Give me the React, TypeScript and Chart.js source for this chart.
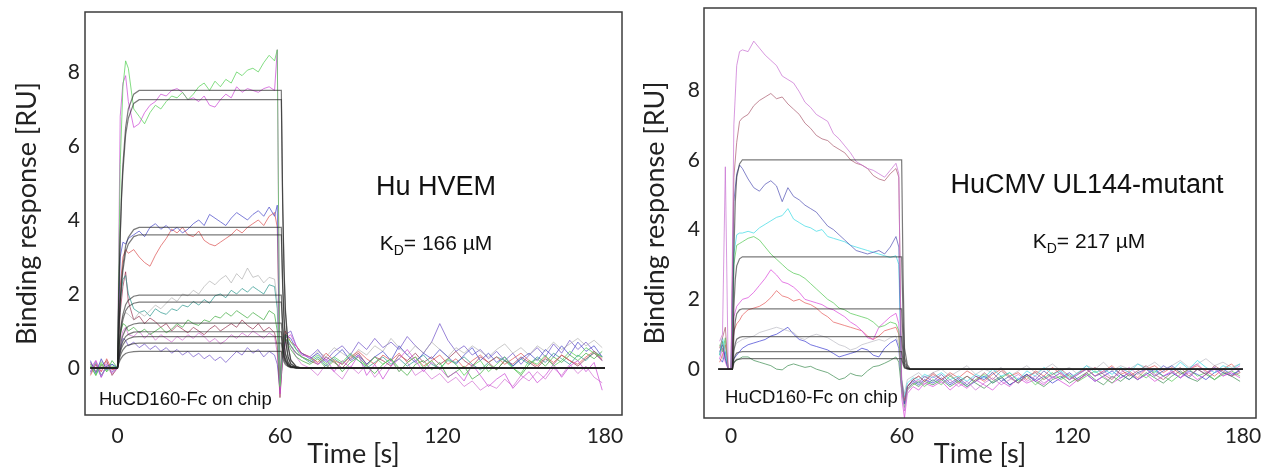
import React, { useEffect, useRef } from 'react';
import { Chart, registerables } from 'chart.js';

Chart.register(...registerables);

// ---------- Left panel (Hu HVEM) ----------
const TIME_L = [
  -10, -8, -6, -4, -2, 0,
  1, 2, 3, 4, 6, 8, 10, 12, 14, 16, 18, 20, 22, 24, 26, 28, 30, 32, 34, 36, 38, 40, 42, 44, 46, 48, 50, 52, 54, 56, 58,
  59, 60, 61, 62, 64, 66, 68,
  71, 74, 77, 80, 83, 86, 89, 92, 95, 98, 101, 104, 107, 110, 113, 116, 119, 122, 125, 128, 131, 134, 137, 140, 143, 146, 149, 152, 155, 158, 161, 164, 167, 170, 173, 176, 179,
];

const HVEM_GREEN = [
  0.1, -0.2, 0.15, -0.1, 0.05, 0.0,
  5.5, 7.6, 8.3, 8.1, 7.0, 6.8, 6.6, 6.9, 7.1, 7.0, 7.2, 7.35, 7.3, 7.45, 7.25, 7.4, 7.6, 7.7, 7.5, 7.75, 7.6, 7.8, 7.7, 8.0, 7.9, 8.05, 8.1, 8.0, 8.25, 8.45, 8.3,
  8.6, -0.5, 0.5, 0.9, 0.7, 0.5, 0.3,
  0.2, 0.35, 0.1, 0.3, 0.15, 0.4, 0.2, 0.05, 0.3, 0.1, 0.25, -0.1, 0.15, 0.3, 0.0, 0.2, -0.05, 0.25, 0.1, -0.2, 0.05, 0.2, -0.1, 0.1, 0.3, 0.0, -0.15, 0.2, 0.1, 0.35, 0.05, 0.2, 0.45, 0.3, 0.55, 0.4, 0.3,
];
const HVEM_MAGENTA = [
  -0.1, 0.2, -0.25, 0.1, -0.15, 0.0,
  6.8, 7.7, 7.9, 7.2, 6.5, 6.6, 6.9, 7.1, 7.2, 7.4, 7.35, 7.5, 7.55, 7.45, 7.25, 7.3, 7.2, 7.35, 7.1, 7.05, 7.25, 7.4, 7.3, 7.6, 7.45, 7.55, 7.5, 7.45, 7.55, 7.6, 7.5,
  8.6, -0.7, 0.4, 0.8, 0.9, 0.6, 0.35,
  0.3, 0.1, 0.25, -0.1, 0.2, 0.0, 0.35, -0.2, 0.1, -0.3, 0.05, 0.25, 0.5, 0.2, -0.1, 0.15, 0.0, -0.25, -0.1, -0.35, 0.1, -0.2, -0.5, -0.3, -0.15, -0.55, -0.3, -0.1, -0.4, -0.2, 0.1, -0.25, 0.05, 0.2, -0.1, 0.15, -0.6,
];
const HVEM_BLUE = [
  0.2, -0.15, 0.25, -0.05, 0.1, 0.0,
  3.0, 3.4, 3.35, 3.5, 3.6, 3.7, 3.55, 3.8, 3.9, 3.75, 3.85, 3.7, 3.8, 3.65, 3.75, 3.9, 4.0, 3.85, 4.15, 4.05, 3.95, 3.85, 4.05, 4.2, 4.1, 4.0, 4.15, 4.25, 4.1, 4.35, 4.1,
  4.4, -0.3, 0.5, 0.9, 0.8, 0.5, 0.4,
  0.25, 0.4, 0.15, 0.3, 0.5, 0.2, 0.35, 0.1, 0.3, 0.45, 0.2, 0.6, 0.35, 0.15, 0.4, 0.25, 0.5, 0.3, 0.1, 0.35, 0.55, 0.2, 0.4, 0.15, 0.3, 0.05, 0.25, 0.4, 0.2, 0.5, 0.3, 0.6, 0.35, 0.7, 0.45, 0.6, 0.3,
];
const HVEM_RED = [
  -0.2, 0.1, -0.1, 0.25, -0.05, 0.0,
  2.2, 3.0, 3.2, 3.1, 3.2, 3.0, 2.85, 2.75, 3.05, 3.3, 3.5, 3.75, 3.65, 3.8, 3.6, 3.55, 3.7, 3.45, 3.35, 3.3, 3.4, 3.5, 3.6, 3.75, 3.65, 3.8, 3.9, 4.0, 3.85, 4.1, 4.2,
  3.8, -0.2, 0.6, 1.0, 0.7, 0.6, 0.4,
  0.3, 0.15, 0.4, 0.2, 0.1, 0.3, 0.45, 0.25, 0.1, 0.35, 0.2, 0.4, 0.15, 0.3, 0.05, 0.2, 0.35, 0.1, 0.25, 0.0, 0.2, 0.35, 0.15, 0.3, 0.1, 0.25, 0.4, 0.2, 0.05, 0.3, 0.15, 0.35, 0.2, 0.1, 0.3, 0.45, 0.25,
];
const HVEM_GRAY = [
  0.1, -0.1, 0.2, 0.0, -0.15, 0.0,
  1.0, 1.4, 1.5, 1.45, 1.3, 1.5, 1.4, 1.55, 1.7, 1.6, 1.75, 1.9, 1.8, 2.0, 1.95, 2.1, 2.0, 2.2, 2.35, 2.25, 2.4, 2.5, 2.3, 2.55, 2.4, 2.7, 2.45, 2.5, 2.3, 2.45, 2.4,
  1.8, -0.3, 0.5, 0.8, 0.6, 0.4, 0.3,
  0.2, 0.45, 0.3, 0.55, 0.4, 0.25, 0.5, 0.35, 0.6, 0.45, 0.8, 0.55, 0.35, 0.6, 0.4, 0.7, 0.5, 0.3, 0.55, 0.4, 0.6, 0.45, 0.3, 0.5, 0.65, 0.4, 0.55, 0.35, 0.6, 0.45, 0.7, 0.5, 0.65, 0.8, 0.6, 0.75, 0.55,
];
const HVEM_TEAL = [
  -0.1, 0.15, -0.2, 0.05, 0.1, 0.0,
  1.8, 2.4, 2.5, 2.0, 1.6, 1.5, 1.55, 1.4, 1.6, 1.5, 1.45, 1.6, 1.55, 1.7, 1.65, 1.8, 1.7, 1.85, 1.75, 1.95, 2.0, 1.9, 2.1, 2.0, 2.15, 2.05, 2.2, 2.1, 2.0, 2.25, 2.2,
  1.6, -0.4, 0.5, 0.9, 0.6, 0.4, 0.3,
  0.15, 0.3, 0.05, 0.25, 0.1, 0.35, 0.2, 0.0, 0.15, 0.3, 0.1, 0.25, 0.05, 0.2, 0.35, 0.1, 0.0, 0.2, 0.15, 0.3, 0.1, -0.05, 0.15, 0.3, 0.2, 0.05, 0.25, 0.1, 0.3, 0.15, 0.4, 0.25, 0.1, 0.35, 0.2, 0.45, 0.3,
];
const HVEM_GREEN2 = [
  0.05, -0.2, 0.1, -0.1, 0.2, 0.0,
  0.9, 1.2, 1.15, 1.0, 1.1, 0.95, 1.05, 0.9, 1.0, 1.1, 0.95, 1.05, 1.2, 1.1, 1.3, 1.2, 1.15, 1.3, 1.25, 1.4, 1.35, 1.5, 1.4, 1.55, 1.45, 1.35, 1.5, 1.4, 1.3, 1.55, 1.45,
  1.0, -0.5, 0.4, 0.8, 0.5, 0.3, 0.2,
  0.1, 0.25, 0.0, 0.2, -0.1, 0.15, 0.3, 0.05, -0.15, 0.1, 0.25, 0.0, -0.2, 0.1, 0.2, -0.05, 0.15, -0.25, -0.1, 0.05, -0.3, -0.15, 0.1, -0.05, 0.2, 0.0, -0.2, 0.1, 0.25, 0.05, 0.3, 0.15, 0.35, 0.2, 0.4, 0.25, 0.45,
];
const HVEM_DARKRED = [
  0.15, -0.1, 0.05, 0.2, -0.2, 0.0,
  1.5, 2.2, 2.6, 1.8, 1.3, 1.4, 1.2, 1.35, 1.25, 1.1, 1.2, 1.0, 1.15, 1.05, 0.95, 1.1, 1.0, 0.9, 1.05, 1.15, 1.0, 1.1, 1.2, 1.1, 1.3, 1.15, 1.05, 1.2, 1.0, 1.1, 0.95,
  0.6, -0.8, 0.3, 0.8, 0.6, 0.4, 0.3,
  0.2, 0.1, 0.3, 0.15, 0.0, 0.25, 0.4, 0.1, 0.3, 0.2, 0.05, 0.35, 0.2, 0.4, 0.15, 0.3, 0.1, 0.25, 0.45, 0.2, 0.05, 0.3, 0.15, -0.05, 0.2, 0.1, 0.3, 0.15, 0.0, 0.25, 0.1, 0.35, 0.2, 0.05, 0.25, 0.4, 0.2,
];
const HVEM_PURPLE = [
  -0.15, 0.1, -0.25, 0.05, -0.1, 0.0,
  0.5, 0.8, 0.75, 0.6, 0.7, 0.55, 0.65, 0.5, 0.6, 0.45, 0.55, 0.4, 0.5, 0.35, 0.45, 0.3, 0.4, 0.25, 0.35, 0.2, 0.3, 0.15, 0.3, 0.45, 0.35, 0.55, 0.4, 0.5, 0.3, 0.45, 0.35,
  0.1, -0.6, 0.3, 0.9, 1.0, 0.6, 0.4,
  0.3, 0.5, 0.2, 0.45, 0.6, 0.35, 0.7, 0.5, 0.8, 0.55, 0.7, 0.5, 0.85, 0.6, 0.4, 0.7, 1.2, 0.75, 0.45, 0.6, 0.35, 0.5, 0.25, 0.45, 0.2, 0.4, 0.1, 0.35, 0.55, 0.3, 0.65, 0.4, 0.75, 0.5, 0.7, 0.45, 0.2,
];
const HVEM_PINK = [
  0.0, 0.2, -0.1, 0.15, -0.05, 0.0,
  0.7, 1.0, 1.1, 0.9, 0.85, 1.0, 0.8, 0.95, 0.75, 0.9, 0.8, 0.7, 0.85, 0.75, 0.9, 0.8, 0.95, 0.85, 0.7, 0.8, 0.65, 0.75, 0.9, 0.8, 0.95, 0.85, 1.0, 0.9, 0.8, 0.95, 0.85,
  0.4, -0.7, 0.2, 0.7, 0.6, 0.3, 0.1,
  0.0, -0.2, 0.1, -0.1, -0.3, 0.05, -0.15, 0.1, -0.25, 0.0, 0.2, -0.1, 0.15, -0.2, -0.05, -0.3, -0.15, -0.4, -0.25, -0.5, -0.35, -0.6, -0.45, -0.55, -0.3, -0.5, -0.2, -0.35, -0.1, -0.3, 0.0, -0.2, 0.1, -0.15, 0.05, -0.25, -0.4,
];

const FIT_TIME_L = [-10, 0, 0.5, 1, 1.5, 2, 3, 4, 6, 8, 60.5, 61, 61.5, 62, 63, 64, 66, 68, 180];
const HVEM_FIT_1 = [0, 0, 2.1, 3.6, 4.7, 5.5, 6.5, 7.0, 7.4, 7.5, 7.5, 4.5, 2.7, 1.6, 0.6, 0.2, 0.04, 0, 0];
const HVEM_FIT_2 = [0, 0, 2.0, 3.5, 4.6, 5.3, 6.3, 6.75, 7.15, 7.25, 7.25, 4.35, 2.6, 1.5, 0.58, 0.22, 0.04, 0, 0];
const HVEM_FIT_3 = [0, 0, 1.06, 1.82, 2.4, 2.77, 3.3, 3.53, 3.74, 3.8, 3.8, 2.28, 1.37, 0.8, 0.3, 0.11, 0.02, 0, 0];
const HVEM_FIT_4 = [0, 0, 1.0, 1.73, 2.27, 2.63, 3.13, 3.35, 3.55, 3.6, 3.6, 2.16, 1.3, 0.76, 0.29, 0.11, 0.02, 0, 0];
const HVEM_FIT_5 = [0, 0, 0.55, 0.95, 1.24, 1.44, 1.71, 1.83, 1.94, 1.97, 1.97, 1.18, 0.71, 0.41, 0.16, 0.06, 0.01, 0, 0];
const HVEM_FIT_6 = [0, 0, 0.5, 0.85, 1.12, 1.3, 1.55, 1.66, 1.75, 1.78, 1.78, 1.07, 0.64, 0.37, 0.14, 0.05, 0.01, 0, 0];
const HVEM_FIT_7 = [0, 0, 0.34, 0.58, 0.76, 0.88, 1.05, 1.13, 1.19, 1.21, 1.21, 0.73, 0.44, 0.25, 0.1, 0.04, 0.01, 0, 0];
const HVEM_FIT_8 = [0, 0, 0.27, 0.47, 0.62, 0.72, 0.85, 0.91, 0.97, 0.98, 0.98, 0.59, 0.35, 0.21, 0.08, 0.03, 0, 0, 0];
const HVEM_FIT_9 = [0, 0, 0.24, 0.41, 0.54, 0.62, 0.74, 0.79, 0.84, 0.85, 0.85, 0.51, 0.31, 0.18, 0.07, 0.03, 0, 0, 0];
const HVEM_FIT_10 = [0, 0, 0.19, 0.32, 0.42, 0.49, 0.58, 0.62, 0.66, 0.67, 0.67, 0.4, 0.24, 0.14, 0.05, 0.02, 0, 0, 0];
const HVEM_FIT_11 = [0, 0, 0.13, 0.22, 0.28, 0.33, 0.39, 0.42, 0.44, 0.45, 0.45, 0.27, 0.16, 0.09, 0.04, 0.01, 0, 0, 0];

// ---------- Right panel (HuCMV UL144-mutant) ----------
const TIME_R = [
  -4, -3, -2, -1, 0,
  1, 2, 3, 4, 6, 8, 10, 12, 14, 16, 18, 20, 22, 24, 26, 28, 30, 32, 34, 36, 38, 40, 42, 44, 46, 48, 50, 52, 54, 56, 58,
  59, 60, 61, 62, 64, 66, 68,
  71, 74, 77, 80, 83, 86, 89, 92, 95, 98, 101, 104, 107, 110, 113, 116, 119, 122, 125, 128, 131, 134, 137, 140, 143, 146, 149, 152, 155, 158, 161, 164, 167, 170, 173, 176, 179,
];

const UL144_MAGENTA = [
  0.8, 1.0, 5.8, 0.0, 0.0,
  7.0, 8.7, 9.1, 9.15, 9.1, 9.4, 9.2, 9.0, 8.85, 8.7, 8.4, 8.3, 8.2, 7.95, 7.65, 7.5, 7.3, 7.2, 7.1, 6.75, 6.6, 6.4, 6.2, 5.95, 5.85, 5.75, 5.7, 5.6, 5.5, 5.7, 5.9,
  5.6, -0.5, -1.2, -0.6, -0.4, -0.3, -0.45,
  -0.2, -0.4, -0.3, -0.5, -0.35, -0.6, -0.4, -0.25, -0.45, -0.3, -0.15, -0.35, -0.2, -0.4, -0.25, -0.1, -0.3, -0.15, 0.0, -0.2, -0.05, -0.25, -0.1, 0.05, -0.15, 0.0, -0.2, 0.1, -0.05, -0.25, 0.0, 0.15, -0.1, 0.05, -0.2, -0.05, 0.1,
];
const UL144_ROSE = [
  0.6, 0.9, 1.2, 0.0, 0.0,
  5.5, 6.5, 7.1, 7.2, 7.3, 7.55, 7.7, 7.8, 7.9, 7.75, 7.8, 7.6, 7.45, 7.3, 7.05, 6.9, 6.7, 6.6, 6.55, 6.4, 6.3, 6.2, 6.0, 5.9, 5.85, 5.75, 5.55, 5.45, 5.4, 5.6, 5.75,
  5.5, -0.3, -0.9, -0.5, -0.3, -0.2, -0.35,
  -0.1, -0.3, -0.15, -0.4, -0.2, -0.35, -0.1, -0.3, -0.05, -0.25, -0.4, -0.2, -0.1, -0.3, -0.15, 0.0, -0.2, -0.35, -0.1, 0.05, -0.15, -0.3, 0.0, -0.2, -0.05, 0.1, -0.15, -0.3, -0.1, 0.05, -0.2, 0.0, -0.15, 0.1, -0.05, -0.2, -0.1,
];
const UL144_BLUE = [
  0.5, 0.7, 0.3, 0.0, 0.0,
  4.8, 5.6, 5.85, 5.75, 5.45, 5.2, 5.1, 5.3, 5.4, 5.25, 4.8, 5.2, 4.95, 4.85, 4.7, 4.6, 4.5, 4.3, 4.1, 4.0, 3.85, 3.7, 3.55, 3.4, 3.35, 3.3, 3.35, 3.4, 3.3, 3.5, 3.8,
  3.5, -0.4, -1.0, -0.5, -0.3, -0.4, -0.2,
  -0.35, -0.15, -0.4, -0.25, -0.45, -0.2, -0.3, -0.1, -0.35, -0.2, -0.4, -0.15, -0.3, -0.05, -0.25, -0.1, -0.3, -0.15, 0.0, -0.2, -0.1, 0.05, -0.15, -0.3, -0.1, 0.0, -0.2, -0.05, 0.1, -0.1, -0.25, 0.0, -0.15, 0.05, -0.1, -0.2, 0.0,
];
const UL144_CYAN = [
  0.4, 0.9, 0.5, 0.0, 0.0,
  3.3, 3.85, 3.9, 3.9, 3.95, 3.9, 4.05, 4.15, 4.25, 4.35, 4.4, 4.6, 4.3, 4.2, 4.1, 4.05, 3.95, 4.0, 3.8, 3.75, 3.7, 3.65, 3.55, 3.5, 3.45, 3.4, 3.35, 3.3, 3.25, 3.2, 3.25,
  3.0, -0.3, -0.8, -0.4, -0.25, -0.3, -0.15,
  -0.25, -0.1, -0.3, -0.2, -0.35, -0.15, -0.25, 0.0, -0.2, -0.1, -0.3, -0.05, -0.2, 0.05, -0.15, -0.05, -0.25, -0.1, 0.1, -0.1, 0.0, -0.15, 0.05, -0.1, 0.15, 0.0, -0.1, 0.1, -0.05, 0.2, 0.0, 0.25, 0.05, -0.1, 0.1, 0.0, 0.15,
];
const UL144_GREEN = [
  0.7, 0.5, 0.9, 0.0, 0.0,
  3.0, 3.55, 3.6, 3.65, 3.75, 3.8, 3.7, 3.5, 3.3, 3.15, 3.0, 2.85, 2.75, 2.7, 2.6, 2.45, 2.3, 2.15, 2.0, 1.9, 1.75, 1.7, 1.6, 1.55, 1.5, 1.45, 1.35, 1.2, 1.25, 1.35, 1.3,
  1.1, -0.6, -1.1, -0.6, -0.45, -0.35, -0.5,
  -0.3, -0.45, -0.2, -0.35, -0.5, -0.3, -0.15, -0.4, -0.25, -0.1, -0.35, -0.2, -0.45, -0.25, -0.1, -0.3, -0.15, -0.35, -0.2, -0.05, -0.25, -0.4, -0.15, -0.3, -0.1, -0.25, -0.05, -0.2, -0.35, -0.15, 0.0, -0.2, -0.1, -0.3, -0.15, -0.05, -0.2,
];
const UL144_MAGENTA2 = [
  0.3, 0.6, 0.2, 0.0, 0.0,
  1.5, 1.8, 1.9, 2.0, 2.05, 2.2, 2.4, 2.6, 2.85, 2.7, 2.5, 2.45, 2.35, 2.2, 2.0, 1.95, 1.9, 1.85, 1.75, 1.7, 1.6, 1.5, 1.35, 1.25, 1.1, 0.9, 0.85, 1.2, 1.35, 1.5, 1.6,
  1.3, -0.8, -1.4, -0.7, -0.5, -0.6, -0.4,
  -0.5, -0.35, -0.6, -0.4, -0.55, -0.3, -0.45, -0.6, -0.35, -0.5, -0.25, -0.4, -0.3, -0.45, -0.2, -0.35, -0.5, -0.3, -0.15, -0.35, -0.2, -0.4, -0.25, -0.1, -0.3, -0.15, -0.35, -0.2, -0.05, -0.25, -0.1, -0.3, -0.15, 0.0, -0.2, -0.1, -0.25,
];
const UL144_RED = [
  0.2, 0.4, 0.7, 0.0, 0.0,
  1.1, 1.3, 1.4, 1.55, 1.7, 1.75, 1.8, 1.9, 2.05, 2.25, 2.1, 2.05, 1.95, 2.0, 1.9, 1.85, 1.75, 1.6, 1.5, 1.35, 1.3, 1.25, 1.2, 1.15, 1.1, 0.95, 0.85, 0.95, 1.1, 1.15, 1.2,
  1.0, -0.4, -0.9, -0.5, -0.3, -0.2, -0.35,
  -0.15, -0.3, -0.1, -0.25, -0.05, -0.2, -0.35, -0.15, 0.0, -0.2, -0.1, -0.3, -0.05, -0.2, 0.05, -0.15, -0.3, -0.1, 0.0, -0.2, -0.05, 0.1, -0.15, -0.05, -0.25, 0.0, 0.1, -0.1, 0.05, -0.15, 0.0, 0.1, -0.05, -0.2, 0.0, 0.15, -0.1,
];
const UL144_GRAY = [
  0.5, 0.3, 0.8, 0.0, 0.0,
  0.6, 0.75, 0.8, 0.85, 0.9, 0.95, 1.05, 1.1, 1.15, 1.2, 1.15, 1.1, 1.05, 0.9, 0.85, 0.95, 1.0, 0.95, 0.9, 0.8, 0.7, 0.65, 0.55, 0.6, 0.7, 0.75, 0.8, 0.85, 0.8, 0.9, 0.95,
  0.7, -0.3, -0.7, -0.3, -0.2, -0.1, -0.25,
  -0.1, 0.0, -0.2, -0.05, 0.1, -0.15, 0.0, -0.1, 0.05, -0.2, -0.05, 0.1, -0.1, 0.0, 0.15, -0.05, 0.05, -0.15, 0.1, 0.0, 0.2, -0.05, 0.1, 0.0, 0.15, 0.05, 0.2, 0.0, 0.1, 0.25, 0.05, 0.15, 0.3, 0.1, 0.2, 0.05, 0.15,
];
const UL144_BLUE2 = [
  0.3, 0.2, 0.5, 0.0, 0.0,
  0.3, 0.4, 0.5, 0.6, 0.7, 0.75, 0.8, 0.85, 0.95, 1.0, 1.1, 1.2, 1.0, 0.85, 0.8, 0.7, 0.65, 0.6, 0.55, 0.45, 0.35, 0.4, 0.45, 0.5, 0.6, 0.55, 0.4, 0.35, 0.6, 0.75, 0.85,
  0.6, -0.5, -1.0, -0.5, -0.35, -0.45, -0.3,
  -0.4, -0.25, -0.45, -0.3, -0.5, -0.35, -0.2, -0.4, -0.25, -0.45, -0.3, -0.15, -0.35, -0.2, -0.4, -0.25, -0.1, -0.3, -0.15, -0.35, -0.2, -0.05, -0.25, -0.1, -0.3, -0.15, 0.0, -0.2, -0.1, -0.25, -0.05, -0.15, -0.3, -0.1, 0.0, -0.15, -0.05,
];
const UL144_GREEN2 = [
  0.4, 0.8, 0.3, 0.0, 0.0,
  0.2, 0.25, 0.3, 0.35, 0.35, 0.25, 0.2, 0.15, 0.1, 0.0, -0.02, 0.1, 0.15, 0.1, 0.05, 0.08, 0.0, -0.05, -0.1, -0.2, -0.3, -0.25, -0.12, -0.18, -0.2, -0.05, 0.07, 0.1, 0.17, 0.25, 0.35,
  0.2, -0.6, -1.0, -0.55, -0.4, -0.5, -0.35,
  -0.45, -0.3, -0.5, -0.35, -0.2, -0.4, -0.55, -0.35, -0.2, -0.45, -0.3, -0.15, -0.35, -0.5, -0.3, -0.2, -0.4, -0.25, -0.1, -0.3, -0.45, -0.2, -0.35, -0.15, -0.3, -0.1, -0.25, -0.4, -0.2, -0.05, -0.25, -0.35, -0.15, -0.3, -0.1, -0.2, -0.35,
];

const FIT_TIME_R = [-4.5, 0.5, 1, 1.5, 2, 3, 4, 6, 60, 60.5, 61, 62, 63, 180];
const UL144_FIT_1 = [0, 0, 3.3, 4.8, 5.5, 5.88, 6.0, 6.0, 6.0, 2.7, 0.6, 0.12, 0, 0];
const UL144_FIT_2 = [0, 0, 1.77, 2.58, 2.96, 3.16, 3.22, 3.22, 3.22, 1.45, 0.32, 0.06, 0, 0];
const UL144_FIT_3 = [0, 0, 0.95, 1.38, 1.59, 1.7, 1.73, 1.73, 1.73, 0.78, 0.17, 0.03, 0, 0];
const UL144_FIT_4 = [0, 0, 0.51, 0.74, 0.86, 0.91, 0.93, 0.93, 0.93, 0.42, 0.09, 0.02, 0, 0];
const UL144_FIT_5 = [0, 0, 0.28, 0.4, 0.46, 0.49, 0.5, 0.5, 0.5, 0.23, 0.05, 0.01, 0, 0];
const UL144_FIT_6 = [0, 0, 0.17, 0.24, 0.28, 0.29, 0.3, 0.3, 0.3, 0.14, 0.03, 0.01, 0, 0];

const X_TICKS = [0, 60, 120, 180];
const Y_TICKS = [0, 2, 4, 6, 8];

// ---------- styling ----------
const FIT_COLOR = 'rgba(35,35,35,0.6)';
const LEFT_TRACES = [
  { data: HVEM_GREEN, color: 'rgba(90,210,90,0.75)' },
  { data: HVEM_MAGENTA, color: 'rgba(205,80,215,0.75)' },
  { data: HVEM_BLUE, color: 'rgba(70,70,200,0.7)' },
  { data: HVEM_RED, color: 'rgba(220,80,80,0.7)' },
  { data: HVEM_GRAY, color: 'rgba(165,165,165,0.6)' },
  { data: HVEM_TEAL, color: 'rgba(40,150,140,0.7)' },
  { data: HVEM_GREEN2, color: 'rgba(60,170,60,0.7)' },
  { data: HVEM_DARKRED, color: 'rgba(150,50,80,0.7)' },
  { data: HVEM_PURPLE, color: 'rgba(110,80,200,0.7)' },
  { data: HVEM_PINK, color: 'rgba(210,110,210,0.7)' },
];
const LEFT_FITS = [HVEM_FIT_1, HVEM_FIT_2, HVEM_FIT_3, HVEM_FIT_4, HVEM_FIT_5, HVEM_FIT_6, HVEM_FIT_7, HVEM_FIT_8, HVEM_FIT_9, HVEM_FIT_10, HVEM_FIT_11];
const RIGHT_TRACES = [
  { data: UL144_MAGENTA, color: 'rgba(200,110,210,0.7)' },
  { data: UL144_ROSE, color: 'rgba(170,90,110,0.7)' },
  { data: UL144_BLUE, color: 'rgba(80,80,180,0.7)' },
  { data: UL144_CYAN, color: 'rgba(70,220,230,0.75)' },
  { data: UL144_GREEN, color: 'rgba(80,200,80,0.7)' },
  { data: UL144_MAGENTA2, color: 'rgba(220,80,220,0.75)' },
  { data: UL144_RED, color: 'rgba(230,90,90,0.7)' },
  { data: UL144_GRAY, color: 'rgba(175,175,185,0.6)' },
  { data: UL144_BLUE2, color: 'rgba(60,60,210,0.7)' },
  { data: UL144_GREEN2, color: 'rgba(60,140,80,0.7)' },
];
const RIGHT_FITS = [UL144_FIT_1, UL144_FIT_2, UL144_FIT_3, UL144_FIT_4, UL144_FIT_5, UL144_FIT_6];

function toPoints(xs: number[], ys: number[]) {
  const n = Math.min(xs.length, ys.length);
  const out: { x: number; y: number }[] = [];
  for (let i = 0; i < n; i++) out.push({ x: xs[i], y: ys[i] });
  return out;
}

function buildDatasets(time: number[], traces: { data: number[]; color: string }[], fitTime: number[], fits: number[][]) {
  const ds: any[] = [];
  fits.forEach((f) => ds.push({ data: toPoints(fitTime, f), borderColor: FIT_COLOR, borderWidth: 1.2, pointRadius: 0, tension: 0, fill: false }));
  traces.forEach((t) => ds.push({ data: toPoints(time, t.data), borderColor: t.color, borderWidth: 1, pointRadius: 0, tension: 0, fill: false }));
  return ds;
}

const notesPlugin = {
  id: 'notes',
  afterDraw(chart: any, _args: any, opts: any) {
    const { ctx, chartArea: a } = chart;
    ctx.save();
    ctx.strokeStyle = '#3c3c3c';
    ctx.lineWidth = 1.5;
    ctx.strokeRect(a.left, a.top, a.right - a.left, a.bottom - a.top);
    ctx.fillStyle = '#111';
    ctx.textBaseline = 'alphabetic';
    ctx.font = `${opts.titleSize}px "Liberation Sans", Arial, sans-serif`;
    ctx.textAlign = 'center';
    ctx.fillText(opts.title, opts.titleX, opts.titleY);
    ctx.textAlign = 'left';
    const big = `${opts.kdSize}px "Liberation Sans", Arial, sans-serif`;
    const small = `${Math.round(opts.kdSize * 0.68)}px "Liberation Sans", Arial, sans-serif`;
    const rest = '= ' + opts.kd;
    ctx.font = big;
    const wK = ctx.measureText('K').width;
    const wR = ctx.measureText(rest).width;
    ctx.font = small;
    const wD = ctx.measureText('D').width;
    let x = opts.kdX - (wK + wD + wR) / 2;
    ctx.font = big;
    ctx.fillText('K', x, opts.kdY);
    x += wK;
    ctx.font = small;
    ctx.fillText('D', x, opts.kdY + opts.kdSize * 0.22);
    x += wD;
    ctx.font = big;
    ctx.fillText(rest, x, opts.kdY);
    ctx.font = `${opts.chipSize}px "Liberation Sans", Arial, sans-serif`;
    ctx.fillText('HuCD160-Fc on chip', opts.chipX, opts.chipY);
    ctx.restore();
  },
};

type PanelProps = {
  left: number;
  width: number;
  time: number[];
  traces: { data: number[]; color: string }[];
  fitTime: number[];
  fits: number[][];
  xMin: number; xMax: number; yMin: number; yMax: number;
  yAxisW: number; xAxisH: number; padTop: number; padRight: number;
  xTickPad: number; yTickPad: number; yTitlePad: number;
  notes: any;
};

function Panel(p: PanelProps) {
  const ref = useRef<HTMLCanvasElement>(null);
  useEffect(() => {
    const font = { family: 'Lato, "Open Sans", sans-serif', size: 21 };
    const titleFont = { family: 'Lato, "Open Sans", sans-serif', size: 27, lineHeight: 1 };
    const chart = new Chart(ref.current as HTMLCanvasElement, {
      type: 'line',
      data: { datasets: buildDatasets(p.time, p.traces, p.fitTime, p.fits) },
      options: {
        responsive: false,
        animation: false,
        devicePixelRatio: 1,
        layout: { padding: { top: p.padTop, right: p.padRight, left: 0, bottom: 0 } },
        plugins: { legend: { display: false }, tooltip: { enabled: false }, notes: p.notes } as any,
        scales: {
          x: {
            type: 'linear',
            min: p.xMin,
            max: p.xMax,
            afterFit: (s: any) => { s.height = p.xAxisH; s.paddingLeft = 0; s.paddingRight = 0; },
            afterBuildTicks: (s: any) => { s.ticks = X_TICKS.map((v) => ({ value: v })); },
            ticks: { padding: p.xTickPad, font, color: '#222', maxRotation: 0, autoSkip: false },
            grid: { display: false, drawTicks: false },
            border: { display: false },
            title: { display: true, text: 'Time [s]', font: titleFont, color: '#222', padding: { top: 0, bottom: 0 } },
          },
          y: {
            type: 'linear',
            min: p.yMin,
            max: p.yMax,
            afterFit: (s: any) => { s.width = p.yAxisW; s.paddingTop = 0; s.paddingBottom = 0; },
            afterBuildTicks: (s: any) => { s.ticks = Y_TICKS.map((v) => ({ value: v })); },
            ticks: { padding: p.yTickPad, font, color: '#222', autoSkip: false },
            grid: { display: false, drawTicks: false },
            border: { display: false },
            title: { display: true, text: 'Binding response [RU]', font: titleFont, color: '#222', padding: { top: p.yTitlePad, bottom: 0 } },
          },
        },
      } as any,
      plugins: [notesPlugin],
    });
    return () => chart.destroy();
  }, []);
  return (
    <canvas
      ref={ref}
      width={p.width}
      height={468}
      style={{ position: 'absolute', left: p.left, top: 0, width: p.width, height: 468 }}
    />
  );
}

export default function App() {
  return (
    <div style={{ position: 'fixed', left: 0, top: 0, width: 1265, height: 468, background: '#fff', overflow: 'hidden' }}>
      <Panel
        left={0}
        width={632}
        time={TIME_L}
        traces={LEFT_TRACES}
        fitTime={FIT_TIME_L}
        fits={LEFT_FITS}
        xMin={-12.0}
        xMax={186.3}
        yMin={-1.27}
        yMax={9.62}
        yAxisW={85}
        xAxisH={53}
        padTop={12}
        padRight={10}
        xTickPad={9}
        yTickPad={5}
        yTitlePad={13.5}
        notes={{ title: 'Hu HVEM', titleX: 436, titleY: 195, titleSize: 27, kd: '166 µM', kdX: 436, kdY: 250, kdSize: 21, chipX: 99, chipY: 405, chipSize: 18.5 }}
      />
      <Panel
        left={632}
        width={633}
        time={TIME_R}
        traces={RIGHT_TRACES}
        fitTime={FIT_TIME_R}
        fits={RIGHT_FITS}
        xMin={-9.5}
        xMax={184.6}
        yMin={-1.4}
        yMax={10.35}
        yAxisW={72}
        xAxisH={50}
        padTop={8}
        padRight={9}
        xTickPad={6}
        yTickPad={4}
        yTitlePad={9.5}
        notes={{ title: 'HuCMV UL144-mutant', titleX: 455, titleY: 193, titleSize: 27, kd: '217 µM', kdX: 457, kdY: 248, kdSize: 21, chipX: 93, chipY: 403, chipSize: 18.5 }}
      />
    </div>
  );
}
